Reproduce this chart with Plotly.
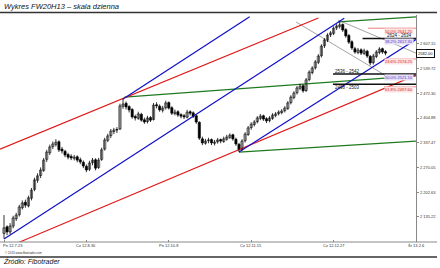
import plotly.graph_objects as go

# ---------------- data ----------------
x_tick_idx = [0, 27, 54, 81, 108, 135]
x_tick_text = ["Pn 12.7.23", "Cz 12.8.30", "Pn 12.10.8", "Cz 12.11.15", "Cz 12.12.27", "Śr 13.2.6"]

opens = [2090, 2108, 2094, 2110, 2130, 2141, 2160, 2175, 2165, 2186,
         2210, 2235, 2248, 2262, 2292, 2310, 2327, 2333, 2340, 2320,
         2314, 2305, 2300, 2295, 2299, 2291, 2284, 2273, 2265, 2283,
         2291, 2270, 2292, 2320, 2344, 2357, 2368, 2373, 2375, 2437,
         2445, 2436, 2428, 2409, 2404, 2415, 2400, 2395, 2406, 2401,
         2441, 2437, 2426, 2433, 2447, 2433, 2417, 2422, 2414, 2411,
         2407, 2422, 2419, 2411, 2393, 2348, 2336, 2343, 2346, 2336,
         2340, 2346, 2341, 2347, 2352, 2359, 2347, 2333, 2320, 2343,
         2360, 2379, 2387, 2395, 2404, 2411, 2403, 2398, 2404, 2412,
         2417, 2420, 2425, 2431, 2447, 2461, 2474, 2486, 2493, 2480,
         2510, 2529, 2542, 2557, 2575, 2602, 2617, 2632, 2636, 2651,
         2655, 2660, 2646, 2630, 2613, 2594, 2584, 2591, 2581, 2587,
         2573, 2556, 2573, 2584, 2594, 2586]
highs = [2140, 2112, 2118, 2138, 2146, 2168, 2180, 2182, 2193, 2214,
         2242, 2254, 2270, 2296, 2318, 2332, 2341, 2347, 2344, 2326,
         2318, 2310, 2306, 2304, 2303, 2297, 2289, 2278, 2288, 2296,
         2295, 2296, 2324, 2351, 2362, 2375, 2378, 2380, 2444, 2458,
         2450, 2440, 2432, 2414, 2422, 2419, 2406, 2411, 2410, 2446,
         2448, 2442, 2438, 2452, 2450, 2437, 2428, 2426, 2418, 2416,
         2427, 2426, 2423, 2414, 2396, 2354, 2348, 2351, 2349, 2345,
         2350, 2349, 2354, 2359, 2363, 2362, 2351, 2337, 2347, 2366,
         2383, 2393, 2399, 2410, 2416, 2414, 2407, 2410, 2418, 2421,
         2426, 2429, 2437, 2451, 2467, 2478, 2492, 2498, 2497, 2514,
         2535, 2546, 2563, 2579, 2606, 2623, 2636, 2642, 2655, 2661,
         2667, 2663, 2650, 2634, 2617, 2599, 2596, 2595, 2594, 2591,
         2577, 2580, 2590, 2598, 2597, 2590]
lows = [2076, 2085, 2088, 2104, 2124, 2136, 2155, 2160, 2161, 2180,
        2205, 2228, 2241, 2258, 2285, 2304, 2320, 2327, 2312, 2308,
        2298, 2292, 2290, 2289, 2284, 2279, 2268, 2257, 2260, 2276,
        2262, 2266, 2288, 2316, 2339, 2350, 2361, 2364, 2372, 2430,
        2428, 2420, 2403, 2398, 2400, 2395, 2389, 2390, 2394, 2398,
        2431, 2422, 2420, 2428, 2428, 2413, 2412, 2408, 2404, 2402,
        2404, 2412, 2405, 2389, 2345, 2331, 2332, 2336, 2331, 2330,
        2335, 2336, 2337, 2343, 2348, 2343, 2329, 2312, 2316, 2338,
        2356, 2373, 2382, 2390, 2399, 2397, 2391, 2393, 2400, 2407,
        2412, 2415, 2420, 2427, 2442, 2456, 2469, 2481, 2474, 2476,
        2505, 2524, 2537, 2552, 2570, 2596, 2612, 2626, 2631, 2645,
        2649, 2640, 2624, 2607, 2591, 2580, 2579, 2577, 2577, 2569,
        2549, 2551, 2568, 2579, 2580, 2576]
closes = [2105, 2094, 2110, 2132, 2140, 2162, 2173, 2167, 2187, 2208,
          2236, 2247, 2263, 2290, 2312, 2326, 2334, 2339, 2318, 2315,
          2304, 2298, 2296, 2298, 2290, 2285, 2274, 2263, 2282, 2290,
          2268, 2290, 2318, 2345, 2356, 2369, 2372, 2372, 2438, 2443,
          2435, 2427, 2408, 2405, 2416, 2399, 2394, 2405, 2399, 2440,
          2438, 2427, 2432, 2446, 2432, 2418, 2421, 2413, 2410, 2408,
          2421, 2418, 2410, 2394, 2350, 2337, 2342, 2345, 2337, 2339,
          2345, 2342, 2348, 2353, 2358, 2348, 2334, 2318, 2342, 2361,
          2378, 2388, 2394, 2405, 2410, 2402, 2397, 2405, 2413, 2416,
          2421, 2424, 2432, 2446, 2462, 2473, 2487, 2492, 2479, 2509,
          2530, 2541, 2558, 2574, 2601, 2618, 2631, 2637, 2650, 2656,
          2659, 2645, 2629, 2612, 2596, 2585, 2590, 2582, 2588, 2574,
          2555, 2574, 2585, 2593, 2585, 2582]
bar_idx = list(range(len(closes)))

y_tick_vals = [2135.22, 2202.63, 2270.05, 2337.47, 2404.88, 2472.30, 2539.72, 2607.15]
y_tick_text = ["2 135.22", "2 202.63", "2 270.05", "2 337.47", "2 404.88", "2 472.30", "2 539.72", "2 607.15"]

# trend lines (bar index, price)
blue_x0 = [0, 39, 77];      blue_y0 = [2075, 2457, 2312]
blue_x1 = [111.5, 80.5, 135]; blue_y1 = [2677, 2681, 2619]
red_x0 = [-1.3, 5];         red_y0 = [2320, 2066]
red_x1 = [103, 135];        red_y1 = [2678, 2522]
green_x0 = [39.5, 77, 109.5]; green_y0 = [2462, 2312, 2667]
green_x1 = [135, 135, 135];   green_y1 = [2520, 2342, 2681]
gray_x0 = [109.5, 95.7];    gray_y0 = [2672, 2667]
gray_x1 = [135, 124.8];     gray_y1 = [2582, 2522]

# price zones
zone_price = [2622, 2525, 2497]
zone_x0 = [117.5, 107.8, 107.8]
zone_text = ["2624 - 2634", "2536 - 2542", "2498 - 2503"]
zone_text_x = [129.5, 112.5, 112.5]
zone_text_y = [2631, 2533, 2488]

# fibonacci levels
fib_price = [2650, 2619, 2566, 2521, 2490]
fib_x0 = [119.3, 124.5, 124.5, 124.5, 124.5]
fib_text = ["50.0% 2641.25", "38.2% 2617.30", "23.6% 2574.25", "50.0% 2521.10", "61.8% 2497.60"]
fib_text_y = [2642, 2613, 2560, 2516, 2484]
fib_color = ["#e01818", "#5a2fc0", "#e01818", "#5a2fc0", "#e01818"]
fib_bg = ["#fbe3e3", "#e6e0f7", "#fbe3e3", "#e6e0f7", "#fbe3e3"]

last_price_text = "2582.00"

# ---------------- figure ----------------
W, H = 440, 268
L, R, T, B = 0, 24, 15, 26
PW, PH = W - L - R, H - T - B


def px(xp):
    return (xp - L) / PW


def py(yp):
    return (H - B - yp) / PH


fig = go.Figure()


def add_lines(x0s, y0s, x1s, y1s, color, width=1.2):
    for a, b, c, d in zip(x0s, y0s, x1s, y1s):
        fig.add_trace(go.Scatter(x=[a, c], y=[b, d], mode="lines",
                                 line=dict(color=color, width=width),
                                 showlegend=False, hoverinfo="skip"))


add_lines(gray_x0, gray_y0, gray_x1, gray_y1, "#8c8c8c", 0.8)
add_lines(green_x0, green_y0, green_x1, green_y1, "#1f7a1f", 1.2)
add_lines(red_x0, red_y0, red_x1, red_y1, "#e01818", 1.2)
add_lines(blue_x0, blue_y0, blue_x1, blue_y1, "#1010c8", 1.2)

# candles: wicks then bodies
wx, wy = [], []
for i, h, l in zip(bar_idx, highs, lows):
    wx += [i, i, None]
    wy += [l, h, None]
fig.add_trace(go.Scatter(x=wx, y=wy, mode="lines", line=dict(color="black", width=0.8),
                         showlegend=False, hoverinfo="skip"))
body_base = [min(o, c) for o, c in zip(opens, closes)]
body_len = [max(abs(c - o), 1.5) for o, c in zip(opens, closes)]
body_fill = ["white" if c >= o else "black" for o, c in zip(opens, closes)]
fig.add_trace(go.Bar(x=bar_idx, y=body_len, base=body_base, width=0.72,
                     marker=dict(color=body_fill, line=dict(color="black", width=0.6)),
                     showlegend=False, hoverinfo="skip"))

# fib lines + labels
for p, x0, t, ty, c, bg in zip(fib_price, fib_x0, fib_text, fib_text_y, fib_color, fib_bg):
    fig.add_trace(go.Scatter(x=[x0, 135], y=[p, p], mode="lines",
                             line=dict(color=c, width=0.8), opacity=0.7,
                             showlegend=False, hoverinfo="skip"))
    fig.add_annotation(x=134.3, y=ty, text=t, showarrow=False, xanchor="right",
                       yanchor="middle", bgcolor=bg, borderpad=0,
                       font=dict(size=4, color=c, family="Liberation Sans"))

# zone lines
for p, x0, t, tx, ty in zip(zone_price, zone_x0, zone_text, zone_text_x, zone_text_y):
    fig.add_trace(go.Scatter(x=[x0, 135], y=[p, p], mode="lines",
                             line=dict(color="#111111", width=1.6),
                             showlegend=False, hoverinfo="skip"))
    fig.add_annotation(x=tx, y=ty, text=t, showarrow=False, xanchor="center",
                       yanchor="middle",
                       font=dict(size=4.5, color="#111111", family="Liberation Sans"))

# last price box
fig.add_annotation(x=px(425), xref="paper", y=closes[-1], yref="y", text=last_price_text,
                   showarrow=False, xanchor="center", yanchor="middle",
                   bgcolor="white", bordercolor="#111111", borderwidth=1, borderpad=1,
                   font=dict(size=4, color="#111111", family="Liberation Sans"))

# x tick labels (first one kept inside the chart, as in the original)
for k, (ti, tt) in enumerate(zip(x_tick_idx, x_tick_text)):
    fig.add_annotation(x=ti if k > 0 else -1.0, y=py(246), yref="paper", text=tt,
                       showarrow=False, xanchor="center" if k > 0 else "left",
                       yanchor="middle",
                       font=dict(size=4, color="#333333", family="Liberation Sans"))

# title & source
fig.add_annotation(x=px(2), y=py(6.5), xref="paper", yref="paper",
                   text="<i>Wykres FW20H13 – skala dzienna</i>", showarrow=False,
                   xanchor="left", yanchor="middle",
                   font=dict(size=7.5, color="#111111", family="Liberation Sans"))
fig.add_annotation(x=px(1), y=py(261), xref="paper", yref="paper",
                   text="<i>Źródło: Fibotrader</i>", showarrow=False,
                   xanchor="left", yanchor="middle",
                   font=dict(size=7, color="#111111", family="Liberation Sans"))
fig.add_annotation(x=px(3), y=py(253), xref="paper", yref="paper",
                   text="© 2013 www.fibotrader.com", showarrow=False,
                   xanchor="left", yanchor="middle",
                   font=dict(size=3, color="#333333", family="Liberation Sans"))

# frame lines
fig.add_shape(type="line", xref="paper", yref="paper", x0=px(0), x1=px(437),
              y0=py(12.5), y1=py(12.5), line=dict(color="#333333", width=1.6))
fig.add_shape(type="line", xref="paper", yref="paper", x0=px(0), x1=px(437),
              y0=py(257), y1=py(257), line=dict(color="#333333", width=1.6))
fig.add_shape(type="line", xref="paper", yref="paper", x0=px(0), x1=px(437),
              y0=0, y1=0, line=dict(color="#888888", width=1))

fig.update_layout(
    width=W, height=H, margin=dict(l=L, r=R, t=T, b=B),
    paper_bgcolor="white", plot_bgcolor="white", barmode="overlay",
    xaxis=dict(range=[-1.31, 135], tickvals=x_tick_idx, ticktext=[""] * len(x_tick_idx),
               showgrid=False, zeroline=False, showline=False,
               ticks="inside", ticklen=2, tickcolor="#888888"),
    yaxis=dict(range=[2066.5, 2686], side="right", tickvals=y_tick_vals,
               ticktext=y_tick_text, showgrid=False, zeroline=False,
               showline=True, linecolor="#888888", linewidth=1.2,
               ticks="outside", ticklen=2, tickcolor="#888888",
               tickfont=dict(size=4, color="#333333", family="Liberation Sans")),
    showlegend=False,
)

fig.write_html("out.html")
